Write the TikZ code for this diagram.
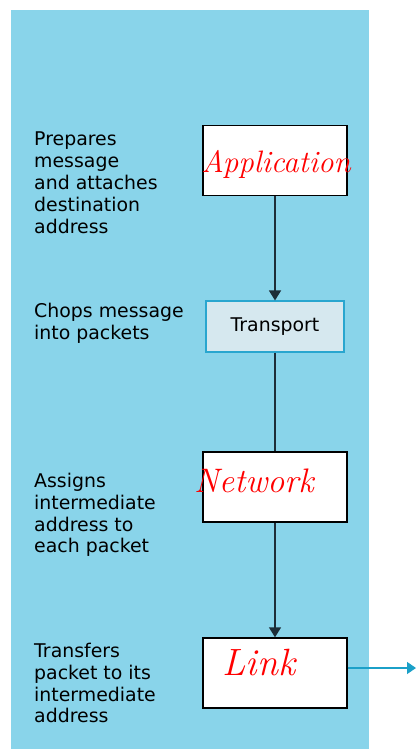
\documentclass[tikz,border=0pt]{standalone}
\usepackage{xcolor}
\usepackage{fontspec}
\newfontfamily\labelfont{DejaVu Sans}
\usepackage{tikz}
\usetikzlibrary{arrows.meta, positioning, calc}

\definecolor{panelblue}{RGB}{137,212,234}
\definecolor{transfill}{RGB}{214,232,239}
\definecolor{transline}{RGB}{41,166,207}
\definecolor{linkline}{RGB}{27,160,200}
\definecolor{wire}{RGB}{29,45,56}

\tikzset{
  layerbox/.style={draw=black, line width=1.4pt, fill=white, minimum width=144pt, minimum height=70pt, inner sep=0pt},
  scrawl/.style={text=red, font=\itshape\fontsize{#1}{#1}\selectfont, inner sep=0pt},
  sidetext/.style={anchor=north west, align=left, inner sep=0pt, font=\labelfont\fontsize{18.9}{21.8}\selectfont},
  wirearrow/.style={draw=wire, line width=1.4pt, -{Triangle[length=10pt,width=12pt]}}
}

\begin{document}
\begin{tikzpicture}[x=1pt, y=-1pt]

\useasboundingbox (0,0) rectangle (416,749);

%//blue panel
\fill[panelblue] (11,10) rectangle (369,749);

%//the four layers
\node [layerbox] (app) at (275,160.5) {};
\node [layerbox, draw=transline, line width=1.1pt, fill=transfill, minimum width=138pt, minimum height=51pt,
       font=\labelfont\fontsize{18.9}{20}\selectfont] (trans) at (275,326.5) {Transport};
\node [layerbox] (net) at (275,487) {};
\node [layerbox] (link) at (275,673) {};

\node [scrawl=31] (apptxt) at (276,164) {Application};
\node [scrawl=34] (nettxt) at (254,481) {Network};
\node [scrawl=38] (linktxt) at (259,662) {Link};

%//left hand notes
\foreach \y/\val in {132/{Prepares\\message\\and attaches\\destination\\address},
                     303/{Chops message\\into packets},
                     473/{Assigns\\intermediate\\address to\\each packet},
                     643/{Transfers\\packet to its\\intermediate\\address}}
\node [sidetext] at (34,\y) {\val};

%//connectors
\draw [wirearrow] (app.south) -- (trans.north);
\draw [draw=wire, line width=1.4pt] (trans.south) -- (net.north);
\draw [wirearrow] (net.south) -- (link.north);

\coordinate (out) at (416,668);
\draw [draw=linkline, line width=1.3pt, -{Triangle[length=9pt,width=12pt]}] (link.east |- out) -- (out);

\end{tikzpicture}
\end{document}
